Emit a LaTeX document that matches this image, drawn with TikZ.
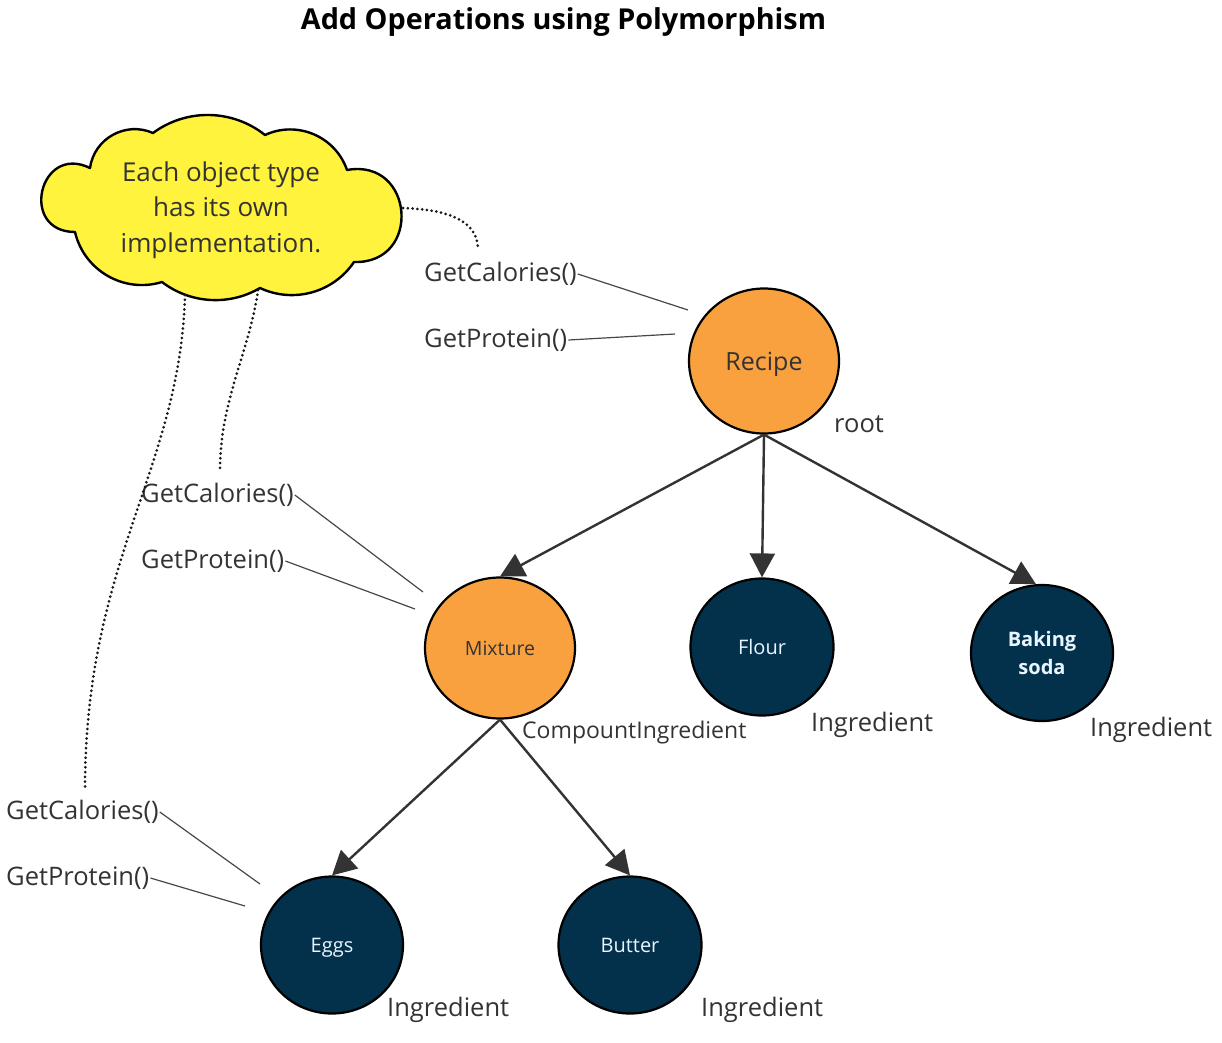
\documentclass[tikz,border=0pt]{standalone}
\usepackage{fontspec}
\setmainfont{Open Sans}
\usetikzlibrary{shapes.geometric,arrows.meta}
\definecolor{orangefill}{HTML}{F9A13F}
\definecolor{navyfill}{HTML}{03304A}
\definecolor{cloudfill}{HTML}{FFF33D}
\definecolor{txt}{HTML}{333333}
\definecolor{navytxt}{HTML}{EAF6FF}
\definecolor{arrowcol}{HTML}{333333}
\tikzset{
  orangenode/.style={ellipse, draw=black, line width=2.2pt, fill=orangefill, inner sep=0pt, text=txt},
  navynode/.style={ellipse, draw=black, line width=2.2pt, fill=navyfill, inner sep=0pt, text=navytxt, font=\fontsize{20}{28}\selectfont, align=center},
  lbl/.style={anchor=west, inner sep=1pt, text=txt, font=\fontsize{25.5}{30}\selectfont},
  methodline/.style={draw=txt!90, line width=1.2pt},
  dotline/.style={draw=black!90, line width=3pt, line cap=round, dash pattern=on 0pt off 4.8pt},
  arrowline/.style={draw=arrowcol, line width=2.4pt, -{Triangle[length=24pt,width=25pt]}},
  cloudshape/.style={draw=black, line width=2.4pt, fill=cloudfill, line join=round},
}
\begin{document}
\begin{tikzpicture}[x=1pt,y=-1pt]
\useasboundingbox (0,0) rectangle (1222,1042);
% title
\node[font=\fontsize{28.8}{32}\selectfont\bfseries, text=black] (title) at (563.5,22) {Add Operations using Polymorphism};
% cloud outline (cusps P1..P8)
\coordinate (P1) at (90,168);
\coordinate (P2) at (153,133);
\coordinate (P3) at (265,135);
\coordinate (P4) at (347,170);
\coordinate (P5) at (354,262);
\coordinate (P6) at (260,288);
\coordinate (P7) at (162,282);
\coordinate (P8) at (75,232);
\draw[cloudshape] (P1)
  to[bend left=53, looseness=1.06] (P2)
  to[bend left=37.5, looseness=0.95] (P3)
  to[bend left=48, looseness=1.02] (P4)
  to[bend left=96, looseness=1.9] (P5)
  to[bend left=40.5, looseness=0.97] (P6)
  to[bend left=34, looseness=0.93] (P7)
  to[bend left=47, looseness=1.01] (P8)
  to[bend left=103, looseness=2.2] (P1) -- cycle;
\node[align=center, text=txt, font=\fontsize{26}{35.5}\selectfont] (cloudtext) at (221,210) {Each object type\\has its own\\implementation.};
% nodes
\node[orangenode, minimum width=150pt, minimum height=145pt, font=\fontsize{25}{30}\selectfont, text depth=0pt] (recipe) at (764,361) {Recipe};
\node[orangenode, minimum width=150pt, minimum height=141pt, font=\fontsize{19.5}{24}\selectfont] (mixture) at (500,648) {Mixture};
\node[navynode, minimum width=143pt, minimum height=137pt] (flour) at (762,647) {Flour};
\node[navynode, minimum width=142pt, minimum height=136pt, font=\fontsize{20}{28}\selectfont\bfseries] (baking) at (1042,653) {Baking\\soda};
\node[navynode, minimum width=142pt, minimum height=137pt, text depth=0pt] (eggs) at (332,945) {Eggs};
\node[navynode, minimum width=143pt, minimum height=137pt] (butter) at (630,945) {Butter};
% arrows
\draw[arrowline] (recipe.south) -- (mixture.north);
\draw[arrowline] (recipe.south) -- (flour.north);
\draw[arrowline] (recipe.south) -- (baking.95);
\draw[arrowline] (mixture.south) -- (eggs.north);
\draw[arrowline] (mixture.south) -- (butter.north);
% type labels
\node[lbl] (lroot) at (833,424) {root};
\node[lbl, font=\fontsize{23}{28}\selectfont] (lmix) at (521,733) {CompountIngredient};
\node[lbl] (lflour) at (810,725) {Ingredient};
\node[lbl] (lbaking) at (1089,730) {Ingredient};
\node[lbl] (leggs) at (386,1010) {Ingredient};
\node[lbl] (lbutter) at (700,1010) {Ingredient};
% method labels
\node[lbl] (rcal) at (423,274) {GetCalories()};
\node[lbl] (rpro) at (423,340) {GetProtein()};
\node[lbl] (mcal) at (140,495) {GetCalories()};
\node[lbl] (mpro) at (140,561) {GetProtein()};
\node[lbl] (ecal) at (5,812) {GetCalories()};
\node[lbl] (epro) at (5,878) {GetProtein()};
\coordinate (rcalend) at (688,310);
\coordinate (rproend) at (675,334);
\coordinate (mcalend) at (423,592);
\coordinate (mproend) at (415,609);
\coordinate (ecalend) at (260,884);
\coordinate (eproend) at (245,906);
\draw[methodline] (rcal.east) -- (rcalend);
\draw[methodline] (rpro.east) -- (rproend);
\draw[methodline] (mcal.east) -- (mcalend);
\draw[methodline] (mpro.east) -- (mproend);
\draw[methodline] (ecal.east) -- (ecalend);
\draw[methodline] (epro.east) -- (eproend);
% dotted connectors from cloud
\coordinate (c1) at (403,208);
\coordinate (c2) at (258,290);
\coordinate (c3) at (185,295);
\coordinate (d1) at (478,250);
\coordinate (d2) at (220,470);
\coordinate (d3) at (85,790);
\draw[dotline] (c1) .. controls (462,210) and (478,228) .. (d1);
\draw[dotline] (c2) .. controls (250,350) and (220,400) .. (d2);
\draw[dotline] (c3) .. controls (180,470) and (85,560) .. (d3);
\end{tikzpicture}
\end{document}
